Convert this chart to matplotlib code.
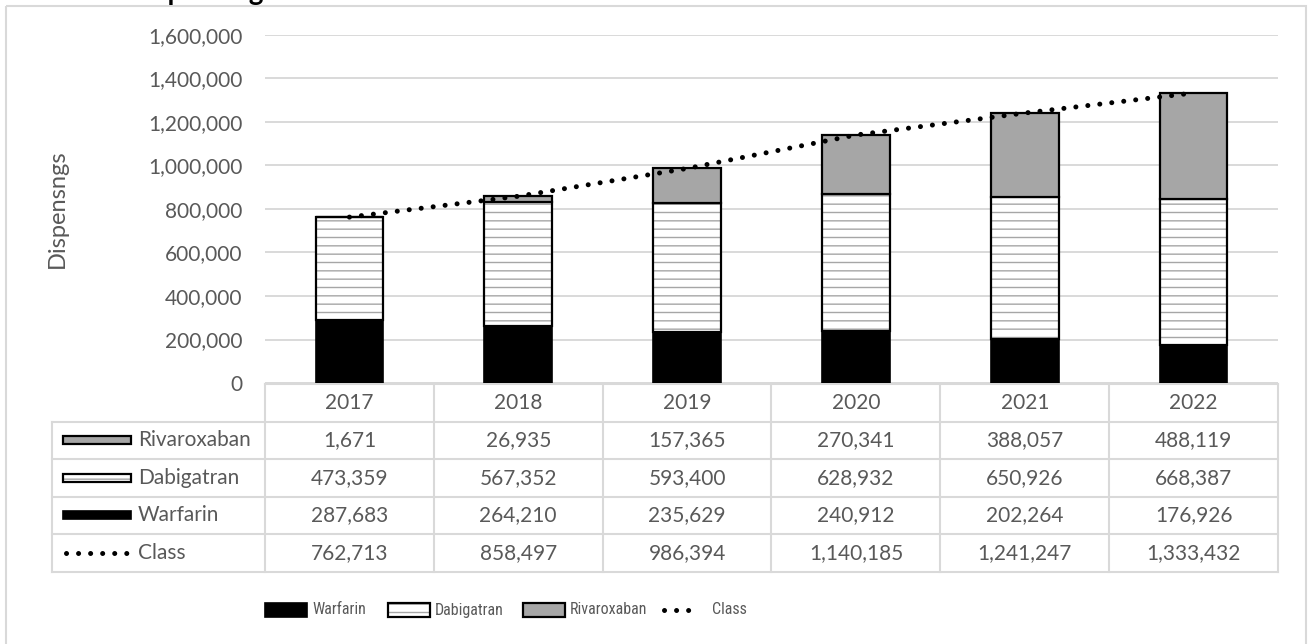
import matplotlib
matplotlib.use('Agg')
import matplotlib.pyplot as plt
import matplotlib.transforms as mtransforms
from matplotlib.patches import Rectangle
import numpy as np

# ---------------- data ----------------
years = ['2017', '2018', '2019', '2020', '2021', '2022']
warfarin = [287683, 264210, 235629, 240912, 202264, 176926]
dabigatran = [473359, 567352, 593400, 628932, 650926, 668387]
rivaroxaban = [1671, 26935, 157365, 270341, 388057, 488119]
class_total = [762713, 858497, 986394, 1140185, 1241247, 1333432]
yticks = [0, 200000, 400000, 600000, 800000, 1000000, 1200000, 1400000, 1600000]
title_text = 'Dispensings'
ylabel_text = 'Dispensngs'
series_names = ['Warfarin', 'Dabigatran', 'Rivaroxaban', 'Class']

# ---------------- style ----------------
plt.rcParams['font.family'] = ['Lato', 'DejaVu Sans']
FS = 15
TXT = '#595959'
GRID = '#D9D9D9'
GRAY = '#A6A6A6'
LS_DOT = (0, (0.01, 2.4))
NARROW = ['Roboto Condensed', 'Liberation Sans Narrow', 'Lato', 'DejaVu Sans']

W, H = 1308, 644
fig = plt.figure(figsize=(W / 100, H / 100), dpi=100)

# overlay axes in pixel coordinates (for frame, table, legend)
ov = fig.add_axes([0, 0, 1, 1])
ov.set_xlim(0, W)
ov.set_ylim(H, 0)
ov.axis('off')

# main plot axes
L, R, T, B = 265, 1278, 35, 383
ax = fig.add_axes([L / W, 1 - B / H, (R - L) / W, (B - T) / H])
ax.patch.set_alpha(0)

x = np.arange(len(years))
bw = 0.4
w = np.array(warfarin)
d = np.array(dabigatran)
r = np.array(rivaroxaban)

ax.bar(x, w, bw, color='black', edgecolor='black', lw=1.2, zorder=2)
ax.bar(x, d, bw, bottom=w, color='white', edgecolor=GRAY, hatch='--', lw=0, zorder=2)
ax.bar(x, d, bw, bottom=w, fill=False, edgecolor='black', lw=1.6, zorder=3)
ax.bar(x, r, bw, bottom=w + d, color=GRAY, edgecolor='black', lw=1.6, zorder=3)
ax.plot(x, class_total, color='black', lw=3.6, linestyle=LS_DOT,
        dash_capstyle='round', zorder=4)

ax.set_xlim(-0.5, len(years) - 0.5)
ax.set_ylim(0, 1600000)
ax.set_yticks(yticks)
ax.set_yticklabels([f'{v:,}' for v in yticks])
ax.set_xticks([])
ax.yaxis.grid(True, color=GRID, lw=1.4)
ax.set_axisbelow(True)
for s in ax.spines.values():
    s.set_visible(False)
ax.tick_params(axis='y', length=0, pad=16, labelsize=FS, labelcolor=TXT)

# outer frame
ov.add_patch(Rectangle((6, 6), 1300, 700, fill=False, edgecolor=GRID, lw=1.5))

# title (cropped at the top edge, as in the source)
ov.text(128, 0, title_text, fontsize=20, fontweight='bold', color='black',
        ha='left', va='baseline', clip_on=False)

# y label
ov.text(57, 209, ylabel_text, rotation=90, ha='center', va='center',
        fontsize=17, color=TXT)

# ---------------- data table ----------------
tr = mtransforms.blended_transform_factory(ax.transData, ov.transData)
rows_y = np.linspace(384, 571.5, 6)
tab_left = 52

ov.plot([L, R], [rows_y[0]] * 2, color=GRID, lw=1.5)
for yy in rows_y[1:]:
    ov.plot([tab_left, R], [yy] * 2, color=GRID, lw=1.5)
ov.plot([tab_left] * 2, [rows_y[1], rows_y[-1]], color=GRID, lw=1.5)
for i in range(len(years) + 1):
    ov.plot([i - 0.5] * 2, [rows_y[0], rows_y[-1]], color=GRID, lw=1.5, transform=tr)

yc = (rows_y[:-1] + rows_y[1:]) / 2
for i, yr in enumerate(years):
    ov.text(i, yc[0], yr, transform=tr, ha='center', va='center', fontsize=FS, color=TXT)

table_rows = [('Rivaroxaban', rivaroxaban), ('Dabigatran', dabigatran),
              ('Warfarin', warfarin), ('Class', class_total)]


def draw_key(name, x0, xw, ycen, h):
    if name == 'Class':
        ov.plot([x0 + 3, x0 + xw - 3], [ycen, ycen], color='black', lw=3.6,
                linestyle=LS_DOT, dash_capstyle='round')
    elif name == 'Warfarin':
        ov.add_patch(Rectangle((x0, ycen - h / 2), xw, h, facecolor='black',
                               edgecolor='black', lw=1.2))
    elif name == 'Dabigatran':
        ov.add_patch(Rectangle((x0, ycen - h / 2), xw, h, facecolor='white',
                               edgecolor=GRAY, hatch='--', lw=0))
        ov.add_patch(Rectangle((x0, ycen - h / 2), xw, h, fill=False,
                               edgecolor='black', lw=1.6))
    else:
        ov.add_patch(Rectangle((x0, ycen - h / 2), xw, h, facecolor=GRAY,
                               edgecolor='black', lw=1.6))


for k, (name, vals) in enumerate(table_rows):
    ycen = yc[k + 1]
    draw_key(name, 63, 68, ycen, 8)
    ov.text(138, ycen, name, ha='left', va='center', fontsize=FS, color=TXT)
    for i, v in enumerate(vals):
        ov.text(i, ycen, f'{v:,}', transform=tr, ha='center', va='center',
                fontsize=FS, color=TXT)

# ---------------- legend ----------------
leg_y = 610
leg_items = [('Warfarin', 265, 42, 312), ('Dabigatran', 388, 42, 435),
             ('Rivaroxaban', 523, 42, 570), ('Class', 661, 39, 712)]
for name, lx, kw, tx in leg_items:
    draw_key(name, lx, kw, leg_y, 14)
    ov.text(tx, leg_y, name, ha='left', va='center', fontsize=11.5, color=TXT,
            family=NARROW)

fig.savefig('out.png', dpi=100)
